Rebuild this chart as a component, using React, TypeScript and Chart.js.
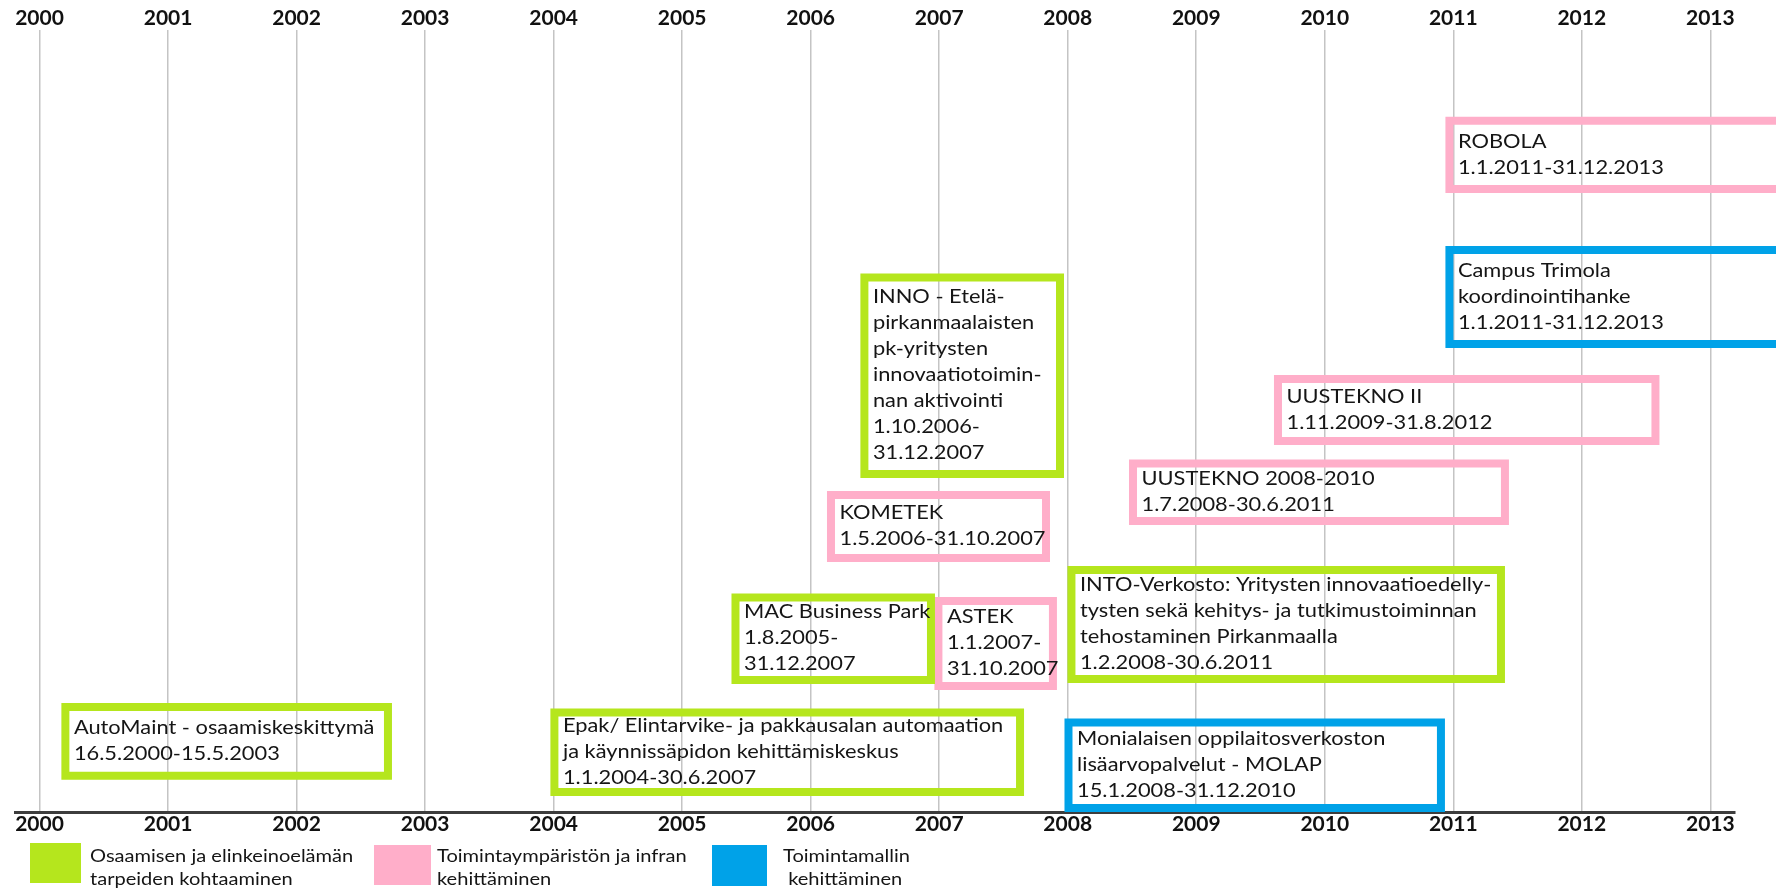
import React, { useEffect, useRef } from 'react';
import { Chart, registerables } from 'chart.js';

Chart.register(...registerables);

// ---- data ----
const YEARS = [2000, 2001, 2002, 2003, 2004, 2005, 2006, 2007, 2008, 2009, 2010, 2011, 2012, 2013];

const PROJECT_LINES: string[][] = [
  ['ROBOLA', '1.1.2011-31.12.2013'],
  ['Campus Trimola', 'koordinointihanke', '1.1.2011-31.12.2013'],
  ['INNO - Etelä-', 'pirkanmaalaisten', 'pk-yritysten', 'innovaatiotoimin-', 'nan aktivointi', '1.10.2006-', '31.12.2007'],
  ['UUSTEKNO II', '1.11.2009-31.8.2012'],
  ['UUSTEKNO 2008-2010', '1.7.2008-30.6.2011'],
  ['KOMETEK', '1.5.2006-31.10.2007'],
  ['INTO-Verkosto: Yritysten innovaatioedelly-', 'tysten sekä kehitys- ja tutkimustoiminnan', 'tehostaminen Pirkanmaalla', '1.2.2008-30.6.2011'],
  ['MAC Business Park', '1.8.2005-', '31.12.2007'],
  ['ASTEK', '1.1.2007-', '31.10.2007'],
  ['AutoMaint - osaamiskeskittymä', '16.5.2000-15.5.2003'],
  ['Epak/ Elintarvike- ja pakkausalan automaation', 'ja käynnissäpidon kehittämiskeskus', '1.1.2004-30.6.2007'],
  ['Monialaisen oppilaitosverkoston', 'lisäarvopalvelut - MOLAP', '15.1.2008-31.12.2010'],
];

// 0 = Osaamisen..., 1 = Toimintaympäristön..., 2 = Toimintamallin...
const PROJECT_CATEGORY = [1, 2, 0, 1, 1, 1, 0, 0, 1, 0, 0, 2];

// horizontal extent of each box (years)
const BOX_START = [2010.97, 2010.97, 2006.418, 2009.636, 2008.508, 2006.158, 2008.029, 2005.415, 2006.994, 2000.201, 2004.006, 2008.006];
const BOX_END = [2014.0, 2014.0, 2007.94, 2012.573, 2011.402, 2007.831, 2011.371, 2006.936, 2007.885, 2002.711, 2007.629, 2010.904];

// vertical lane extent of each box (0 = time axis, 100 = top)
const BOX_TOP = [88.42, 71.9, 68.39, 55.43, 44.64, 40.61, 31.03, 27.52, 27.08, 13.54, 12.84, 11.56];
const BOX_BOTTOM = [79.69, 59.9, 43.3, 47.51, 37.29, 32.57, 17.11, 16.99, 16.22, 4.73, 2.68, 0.64];

const CATEGORY_LABELS: string[][] = [
  ['Osaamisen ja elinkeinoelämän', 'tarpeiden kohtaaminen'],
  ['Toimintaympäristön ja infran', 'kehittäminen'],
  ['Toimintamallin', ' kehittäminen'],
];

// ---- styles ----
const CATEGORY_COLORS = ['#b5e61d', '#ffaec9', '#00a2e8'];
const TEXT_COLOR = '#151515';
const FONT_FAMILY = "Lato, 'Open Sans', sans-serif";
const BOX_FONT_SIZE = 18.5;
const LEGEND_FONT_SIZE = 17;
const STRETCH = 1.18;
const CAP = 13.2;
const LINE_PITCH = 26;
const TEXT_INSET = 8.5;

const LEGEND_LAYOUT = [
  { sx: 30, sy: 843, sw: 51, sh: 40, tx: 90 },
  { sx: 374, sy: 845, sw: 57, sh: 40, tx: 437 },
  { sx: 712, sy: 845, sw: 55, sh: 41, tx: 783 },
];
const LEGEND_BASELINES = [862, 885];

function drawStretched(ctx: CanvasRenderingContext2D, text: string, x: number, y: number) {
  ctx.save();
  ctx.translate(x, y);
  ctx.scale(STRETCH, 1);
  ctx.fillText(text, 0, 0);
  ctx.restore();
}

const boxTextPlugin = {
  id: 'boxText',
  afterDatasetsDraw(chart: any) {
    const { ctx } = chart;
    const x = chart.scales.x;
    const y = chart.scales.y;
    ctx.save();
    ctx.fillStyle = TEXT_COLOR;
    ctx.font = `${BOX_FONT_SIZE}px ${FONT_FAMILY}`;
    ctx.textAlign = 'left';
    ctx.textBaseline = 'alphabetic';
    PROJECT_LINES.forEach((lines, i) => {
      const left = x.getPixelForValue(BOX_START[i]);
      const top = y.getPixelForValue(BOX_TOP[i]);
      const bottom = y.getPixelForValue(BOX_BOTTOM[i]);
      const center = (top + bottom) / 2;
      const block = CAP + (lines.length - 1) * LINE_PITCH;
      const first = center - 1 - block / 2 + CAP;
      lines.forEach((ln, k) => {
        drawStretched(ctx, ln, left + TEXT_INSET, first + k * LINE_PITCH);
      });
    });
    ctx.restore();
  },
};

const legendPlugin = {
  id: 'customLegend',
  afterDraw(chart: any) {
    const { ctx } = chart;
    ctx.save();
    ctx.font = `${LEGEND_FONT_SIZE}px ${FONT_FAMILY}`;
    ctx.textAlign = 'left';
    ctx.textBaseline = 'alphabetic';
    CATEGORY_LABELS.forEach((lines, i) => {
      const l = LEGEND_LAYOUT[i];
      ctx.fillStyle = CATEGORY_COLORS[i];
      ctx.fillRect(l.sx, l.sy, l.sw, l.sh);
      ctx.fillStyle = TEXT_COLOR;
      lines.forEach((ln, k) => drawStretched(ctx, ln, l.tx, LEGEND_BASELINES[k]));
    });
    ctx.restore();
  },
};

export default function App() {
  const canvasRef = useRef<HTMLCanvasElement | null>(null);

  useEffect(() => {
    const canvas = canvasRef.current;
    if (!canvas) return;

    const datasets = PROJECT_LINES.map((lines, i) => {
      const x0 = BOX_START[i];
      const x1 = BOX_END[i];
      const t = BOX_TOP[i];
      const b = BOX_BOTTOM[i];
      return {
        label: lines[0],
        data: [
          { x: x0, y: t },
          { x: x1, y: t },
          { x: x1, y: b },
          { x: x0, y: b },
          { x: x0, y: t },
          { x: x1, y: t },
        ],
        showLine: true,
        fill: false,
        borderColor: CATEGORY_COLORS[PROJECT_CATEGORY[i]],
        backgroundColor: CATEGORY_COLORS[PROJECT_CATEGORY[i]],
        borderWidth: 8,
        borderJoinStyle: 'miter' as const,
        borderCapStyle: 'butt' as const,
        pointRadius: 0,
        pointHoverRadius: 0,
        tension: 0,
        clip: false as any,
      };
    });

    const xMin = 1999.809;
    const xMax = 2013.192;
    const tickFont = { family: FONT_FAMILY, size: 21, weight: 'bold' as const, lineHeight: 1.1 };
    const setYearTicks = (axis: any) => {
      axis.ticks = YEARS.map((v) => ({ value: v }));
    };

    const chart = new Chart(canvas, {
      type: 'scatter',
      data: { datasets },
      plugins: [boxTextPlugin, legendPlugin],
      options: {
        animation: false,
        responsive: false,
        devicePixelRatio: 1,
        events: [],
        layout: { padding: { left: 15, right: 41, top: 7, bottom: 52 } },
        plugins: {
          legend: { display: false },
          tooltip: { enabled: false },
          title: { display: false },
        },
        scales: {
          x: {
            type: 'linear',
            position: 'bottom',
            min: xMin,
            max: xMax,
            afterBuildTicks: setYearTicks,
            grid: { color: '#c4c4c4', lineWidth: 1.5, drawTicks: false },
            border: { display: true, color: '#3d3d3d', width: 3 },
            ticks: {
              font: tickFont,
              color: '#111111',
              padding: 0,
              maxRotation: 0,
              autoSkip: false,
              callback: (v: any) => String(v),
            },
          },
          x2: {
            type: 'linear',
            position: 'top',
            min: xMin,
            max: xMax,
            afterBuildTicks: setYearTicks,
            grid: { display: false, drawTicks: false },
            border: { display: false },
            ticks: {
              font: tickFont,
              color: '#111111',
              padding: 0,
              maxRotation: 0,
              autoSkip: false,
              callback: (v: any) => String(v),
            },
          },
          y: {
            type: 'linear',
            display: false,
            min: 0,
            max: 100,
          },
        },
      },
    });

    return () => chart.destroy();
  }, []);

  return (
    <div style={{ position: 'absolute', left: 0, top: 0, width: 1776, height: 888, background: '#ffffff' }}>
      <canvas ref={canvasRef} width={1776} height={888} style={{ display: 'block' }} />
    </div>
  );
}
